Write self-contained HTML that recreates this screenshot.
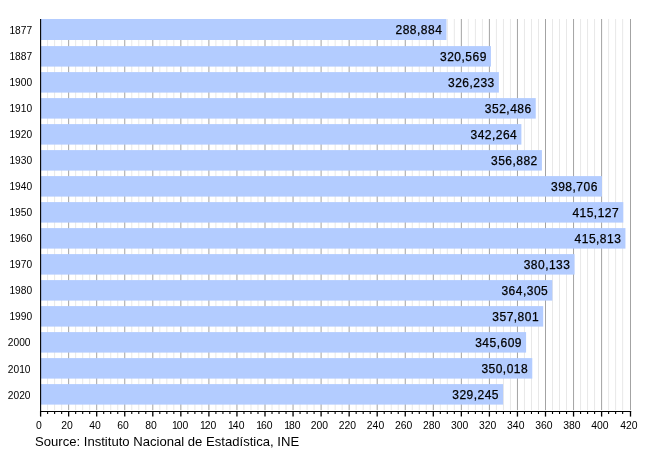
<!DOCTYPE html>
<html><head><meta charset="utf-8"><title>Population</title>
<style>
html,body{margin:0;padding:0;background:#fff;}
svg{display:block;}
text{font-family:"Liberation Sans",Arial,Helvetica,sans-serif;fill:#000;}
.yr{font-size:10.2px;}
.tk{font-size:10.4px;text-anchor:middle;}
.val{font-size:12px;text-anchor:end;letter-spacing:0.48px;stroke:#000;stroke-width:0.25px;}
.src{font-size:13.1px;}
</style></head><body>
<svg width="650" height="450" viewBox="0 0 650 450">
<rect width="650" height="450" fill="#fff"/>

<g>
<line x1="47.61" y1="19.0" x2="47.61" y2="410.2" stroke="#e8e8e8" stroke-width="1"/>
<line x1="54.62" y1="19.0" x2="54.62" y2="410.2" stroke="#e8e8e8" stroke-width="1"/>
<line x1="61.64" y1="19.0" x2="61.64" y2="410.2" stroke="#e8e8e8" stroke-width="1"/>
<line x1="68.65" y1="19.0" x2="68.65" y2="410.2" stroke="#a3a3a3" stroke-width="1"/>
<line x1="75.66" y1="19.0" x2="75.66" y2="410.2" stroke="#e8e8e8" stroke-width="1"/>
<line x1="82.68" y1="19.0" x2="82.68" y2="410.2" stroke="#e8e8e8" stroke-width="1"/>
<line x1="89.69" y1="19.0" x2="89.69" y2="410.2" stroke="#e8e8e8" stroke-width="1"/>
<line x1="96.70" y1="19.0" x2="96.70" y2="410.2" stroke="#a3a3a3" stroke-width="1"/>
<line x1="103.71" y1="19.0" x2="103.71" y2="410.2" stroke="#e8e8e8" stroke-width="1"/>
<line x1="110.72" y1="19.0" x2="110.72" y2="410.2" stroke="#e8e8e8" stroke-width="1"/>
<line x1="117.74" y1="19.0" x2="117.74" y2="410.2" stroke="#e8e8e8" stroke-width="1"/>
<line x1="124.75" y1="19.0" x2="124.75" y2="410.2" stroke="#a3a3a3" stroke-width="1"/>
<line x1="131.76" y1="19.0" x2="131.76" y2="410.2" stroke="#e8e8e8" stroke-width="1"/>
<line x1="138.78" y1="19.0" x2="138.78" y2="410.2" stroke="#e8e8e8" stroke-width="1"/>
<line x1="145.79" y1="19.0" x2="145.79" y2="410.2" stroke="#e8e8e8" stroke-width="1"/>
<line x1="152.80" y1="19.0" x2="152.80" y2="410.2" stroke="#a3a3a3" stroke-width="1"/>
<line x1="159.81" y1="19.0" x2="159.81" y2="410.2" stroke="#e8e8e8" stroke-width="1"/>
<line x1="166.83" y1="19.0" x2="166.83" y2="410.2" stroke="#e8e8e8" stroke-width="1"/>
<line x1="173.84" y1="19.0" x2="173.84" y2="410.2" stroke="#e8e8e8" stroke-width="1"/>
<line x1="180.85" y1="19.0" x2="180.85" y2="410.2" stroke="#a3a3a3" stroke-width="1"/>
<line x1="187.86" y1="19.0" x2="187.86" y2="410.2" stroke="#e8e8e8" stroke-width="1"/>
<line x1="194.88" y1="19.0" x2="194.88" y2="410.2" stroke="#e8e8e8" stroke-width="1"/>
<line x1="201.89" y1="19.0" x2="201.89" y2="410.2" stroke="#e8e8e8" stroke-width="1"/>
<line x1="208.90" y1="19.0" x2="208.90" y2="410.2" stroke="#a3a3a3" stroke-width="1"/>
<line x1="215.91" y1="19.0" x2="215.91" y2="410.2" stroke="#e8e8e8" stroke-width="1"/>
<line x1="222.93" y1="19.0" x2="222.93" y2="410.2" stroke="#e8e8e8" stroke-width="1"/>
<line x1="229.94" y1="19.0" x2="229.94" y2="410.2" stroke="#e8e8e8" stroke-width="1"/>
<line x1="236.95" y1="19.0" x2="236.95" y2="410.2" stroke="#a3a3a3" stroke-width="1"/>
<line x1="243.96" y1="19.0" x2="243.96" y2="410.2" stroke="#e8e8e8" stroke-width="1"/>
<line x1="250.97" y1="19.0" x2="250.97" y2="410.2" stroke="#e8e8e8" stroke-width="1"/>
<line x1="257.99" y1="19.0" x2="257.99" y2="410.2" stroke="#e8e8e8" stroke-width="1"/>
<line x1="265.00" y1="19.0" x2="265.00" y2="410.2" stroke="#a3a3a3" stroke-width="1"/>
<line x1="272.01" y1="19.0" x2="272.01" y2="410.2" stroke="#e8e8e8" stroke-width="1"/>
<line x1="279.03" y1="19.0" x2="279.03" y2="410.2" stroke="#e8e8e8" stroke-width="1"/>
<line x1="286.04" y1="19.0" x2="286.04" y2="410.2" stroke="#e8e8e8" stroke-width="1"/>
<line x1="293.05" y1="19.0" x2="293.05" y2="410.2" stroke="#a3a3a3" stroke-width="1"/>
<line x1="300.06" y1="19.0" x2="300.06" y2="410.2" stroke="#e8e8e8" stroke-width="1"/>
<line x1="307.08" y1="19.0" x2="307.08" y2="410.2" stroke="#e8e8e8" stroke-width="1"/>
<line x1="314.09" y1="19.0" x2="314.09" y2="410.2" stroke="#e8e8e8" stroke-width="1"/>
<line x1="321.10" y1="19.0" x2="321.10" y2="410.2" stroke="#a3a3a3" stroke-width="1"/>
<line x1="328.11" y1="19.0" x2="328.11" y2="410.2" stroke="#e8e8e8" stroke-width="1"/>
<line x1="335.13" y1="19.0" x2="335.13" y2="410.2" stroke="#e8e8e8" stroke-width="1"/>
<line x1="342.14" y1="19.0" x2="342.14" y2="410.2" stroke="#e8e8e8" stroke-width="1"/>
<line x1="349.15" y1="19.0" x2="349.15" y2="410.2" stroke="#a3a3a3" stroke-width="1"/>
<line x1="356.16" y1="19.0" x2="356.16" y2="410.2" stroke="#e8e8e8" stroke-width="1"/>
<line x1="363.18" y1="19.0" x2="363.18" y2="410.2" stroke="#e8e8e8" stroke-width="1"/>
<line x1="370.19" y1="19.0" x2="370.19" y2="410.2" stroke="#e8e8e8" stroke-width="1"/>
<line x1="377.20" y1="19.0" x2="377.20" y2="410.2" stroke="#a3a3a3" stroke-width="1"/>
<line x1="384.21" y1="19.0" x2="384.21" y2="410.2" stroke="#e8e8e8" stroke-width="1"/>
<line x1="391.23" y1="19.0" x2="391.23" y2="410.2" stroke="#e8e8e8" stroke-width="1"/>
<line x1="398.24" y1="19.0" x2="398.24" y2="410.2" stroke="#e8e8e8" stroke-width="1"/>
<line x1="405.25" y1="19.0" x2="405.25" y2="410.2" stroke="#a3a3a3" stroke-width="1"/>
<line x1="412.26" y1="19.0" x2="412.26" y2="410.2" stroke="#e8e8e8" stroke-width="1"/>
<line x1="419.28" y1="19.0" x2="419.28" y2="410.2" stroke="#e8e8e8" stroke-width="1"/>
<line x1="426.29" y1="19.0" x2="426.29" y2="410.2" stroke="#e8e8e8" stroke-width="1"/>
<line x1="433.30" y1="19.0" x2="433.30" y2="410.2" stroke="#a3a3a3" stroke-width="1"/>
<line x1="440.31" y1="19.0" x2="440.31" y2="410.2" stroke="#e8e8e8" stroke-width="1"/>
<line x1="447.33" y1="19.0" x2="447.33" y2="410.2" stroke="#e8e8e8" stroke-width="1"/>
<line x1="454.34" y1="19.0" x2="454.34" y2="410.2" stroke="#e8e8e8" stroke-width="1"/>
<line x1="461.35" y1="19.0" x2="461.35" y2="410.2" stroke="#a3a3a3" stroke-width="1"/>
<line x1="468.36" y1="19.0" x2="468.36" y2="410.2" stroke="#e8e8e8" stroke-width="1"/>
<line x1="475.38" y1="19.0" x2="475.38" y2="410.2" stroke="#e8e8e8" stroke-width="1"/>
<line x1="482.39" y1="19.0" x2="482.39" y2="410.2" stroke="#e8e8e8" stroke-width="1"/>
<line x1="489.40" y1="19.0" x2="489.40" y2="410.2" stroke="#a3a3a3" stroke-width="1"/>
<line x1="496.41" y1="19.0" x2="496.41" y2="410.2" stroke="#e8e8e8" stroke-width="1"/>
<line x1="503.43" y1="19.0" x2="503.43" y2="410.2" stroke="#e8e8e8" stroke-width="1"/>
<line x1="510.44" y1="19.0" x2="510.44" y2="410.2" stroke="#e8e8e8" stroke-width="1"/>
<line x1="517.45" y1="19.0" x2="517.45" y2="410.2" stroke="#a3a3a3" stroke-width="1"/>
<line x1="524.46" y1="19.0" x2="524.46" y2="410.2" stroke="#e8e8e8" stroke-width="1"/>
<line x1="531.48" y1="19.0" x2="531.48" y2="410.2" stroke="#e8e8e8" stroke-width="1"/>
<line x1="538.49" y1="19.0" x2="538.49" y2="410.2" stroke="#e8e8e8" stroke-width="1"/>
<line x1="545.50" y1="19.0" x2="545.50" y2="410.2" stroke="#a3a3a3" stroke-width="1"/>
<line x1="552.51" y1="19.0" x2="552.51" y2="410.2" stroke="#e8e8e8" stroke-width="1"/>
<line x1="559.53" y1="19.0" x2="559.53" y2="410.2" stroke="#e8e8e8" stroke-width="1"/>
<line x1="566.54" y1="19.0" x2="566.54" y2="410.2" stroke="#e8e8e8" stroke-width="1"/>
<line x1="573.55" y1="19.0" x2="573.55" y2="410.2" stroke="#a3a3a3" stroke-width="1"/>
<line x1="580.56" y1="19.0" x2="580.56" y2="410.2" stroke="#e8e8e8" stroke-width="1"/>
<line x1="587.58" y1="19.0" x2="587.58" y2="410.2" stroke="#e8e8e8" stroke-width="1"/>
<line x1="594.59" y1="19.0" x2="594.59" y2="410.2" stroke="#e8e8e8" stroke-width="1"/>
<line x1="601.60" y1="19.0" x2="601.60" y2="410.2" stroke="#a3a3a3" stroke-width="1"/>
<line x1="608.61" y1="19.0" x2="608.61" y2="410.2" stroke="#e8e8e8" stroke-width="1"/>
<line x1="615.62" y1="19.0" x2="615.62" y2="410.2" stroke="#e8e8e8" stroke-width="1"/>
<line x1="622.64" y1="19.0" x2="622.64" y2="410.2" stroke="#e8e8e8" stroke-width="1"/>
<line x1="630.50" y1="19.0" x2="630.50" y2="410.2" stroke="#a3a3a3" stroke-width="1"/>
</g>
<rect x="40.60" y="19.00" width="405.84" height="21.0" fill="#b3ccff"/>
<rect x="40.60" y="46.10" width="450.33" height="20.5" fill="#b3ccff"/>
<rect x="40.60" y="72.10" width="458.28" height="20.5" fill="#b3ccff"/>
<rect x="40.60" y="98.10" width="495.14" height="20.5" fill="#b3ccff"/>
<rect x="40.60" y="124.10" width="480.79" height="20.5" fill="#b3ccff"/>
<rect x="40.60" y="150.10" width="501.31" height="20.5" fill="#b3ccff"/>
<rect x="40.60" y="176.10" width="561.33" height="20.5" fill="#b3ccff"/>
<rect x="40.60" y="202.10" width="582.69" height="20.5" fill="#b3ccff"/>
<rect x="40.60" y="228.10" width="584.85" height="20.5" fill="#b3ccff"/>
<rect x="40.60" y="254.10" width="533.96" height="20.5" fill="#b3ccff"/>
<rect x="40.60" y="280.10" width="511.73" height="20.5" fill="#b3ccff"/>
<rect x="40.60" y="306.10" width="502.60" height="20.5" fill="#b3ccff"/>
<rect x="40.60" y="332.10" width="485.49" height="20.5" fill="#b3ccff"/>
<rect x="40.60" y="358.10" width="491.68" height="20.5" fill="#b3ccff"/>
<rect x="40.60" y="384.10" width="462.51" height="20.5" fill="#b3ccff"/>
<line x1="40.6" y1="19.0" x2="40.6" y2="411.7" stroke="#000" stroke-width="1.1"/>
<line x1="40.1" y1="411.5" x2="631.2" y2="411.5" stroke="#000" stroke-width="1.2"/>
<line x1="40.60" y1="411.2" x2="40.60" y2="416.6" stroke="#000" stroke-width="1.3"/>
<line x1="47.61" y1="411.2" x2="47.61" y2="414.0" stroke="#000" stroke-width="1.1"/>
<line x1="54.62" y1="411.2" x2="54.62" y2="414.0" stroke="#000" stroke-width="1.1"/>
<line x1="61.64" y1="411.2" x2="61.64" y2="414.0" stroke="#000" stroke-width="1.1"/>
<line x1="68.65" y1="411.2" x2="68.65" y2="416.6" stroke="#000" stroke-width="1.3"/>
<line x1="75.66" y1="411.2" x2="75.66" y2="414.0" stroke="#000" stroke-width="1.1"/>
<line x1="82.68" y1="411.2" x2="82.68" y2="414.0" stroke="#000" stroke-width="1.1"/>
<line x1="89.69" y1="411.2" x2="89.69" y2="414.0" stroke="#000" stroke-width="1.1"/>
<line x1="96.70" y1="411.2" x2="96.70" y2="416.6" stroke="#000" stroke-width="1.3"/>
<line x1="103.71" y1="411.2" x2="103.71" y2="414.0" stroke="#000" stroke-width="1.1"/>
<line x1="110.72" y1="411.2" x2="110.72" y2="414.0" stroke="#000" stroke-width="1.1"/>
<line x1="117.74" y1="411.2" x2="117.74" y2="414.0" stroke="#000" stroke-width="1.1"/>
<line x1="124.75" y1="411.2" x2="124.75" y2="416.6" stroke="#000" stroke-width="1.3"/>
<line x1="131.76" y1="411.2" x2="131.76" y2="414.0" stroke="#000" stroke-width="1.1"/>
<line x1="138.78" y1="411.2" x2="138.78" y2="414.0" stroke="#000" stroke-width="1.1"/>
<line x1="145.79" y1="411.2" x2="145.79" y2="414.0" stroke="#000" stroke-width="1.1"/>
<line x1="152.80" y1="411.2" x2="152.80" y2="416.6" stroke="#000" stroke-width="1.3"/>
<line x1="159.81" y1="411.2" x2="159.81" y2="414.0" stroke="#000" stroke-width="1.1"/>
<line x1="166.83" y1="411.2" x2="166.83" y2="414.0" stroke="#000" stroke-width="1.1"/>
<line x1="173.84" y1="411.2" x2="173.84" y2="414.0" stroke="#000" stroke-width="1.1"/>
<line x1="180.85" y1="411.2" x2="180.85" y2="416.6" stroke="#000" stroke-width="1.3"/>
<line x1="187.86" y1="411.2" x2="187.86" y2="414.0" stroke="#000" stroke-width="1.1"/>
<line x1="194.88" y1="411.2" x2="194.88" y2="414.0" stroke="#000" stroke-width="1.1"/>
<line x1="201.89" y1="411.2" x2="201.89" y2="414.0" stroke="#000" stroke-width="1.1"/>
<line x1="208.90" y1="411.2" x2="208.90" y2="416.6" stroke="#000" stroke-width="1.3"/>
<line x1="215.91" y1="411.2" x2="215.91" y2="414.0" stroke="#000" stroke-width="1.1"/>
<line x1="222.93" y1="411.2" x2="222.93" y2="414.0" stroke="#000" stroke-width="1.1"/>
<line x1="229.94" y1="411.2" x2="229.94" y2="414.0" stroke="#000" stroke-width="1.1"/>
<line x1="236.95" y1="411.2" x2="236.95" y2="416.6" stroke="#000" stroke-width="1.3"/>
<line x1="243.96" y1="411.2" x2="243.96" y2="414.0" stroke="#000" stroke-width="1.1"/>
<line x1="250.97" y1="411.2" x2="250.97" y2="414.0" stroke="#000" stroke-width="1.1"/>
<line x1="257.99" y1="411.2" x2="257.99" y2="414.0" stroke="#000" stroke-width="1.1"/>
<line x1="265.00" y1="411.2" x2="265.00" y2="416.6" stroke="#000" stroke-width="1.3"/>
<line x1="272.01" y1="411.2" x2="272.01" y2="414.0" stroke="#000" stroke-width="1.1"/>
<line x1="279.03" y1="411.2" x2="279.03" y2="414.0" stroke="#000" stroke-width="1.1"/>
<line x1="286.04" y1="411.2" x2="286.04" y2="414.0" stroke="#000" stroke-width="1.1"/>
<line x1="293.05" y1="411.2" x2="293.05" y2="416.6" stroke="#000" stroke-width="1.3"/>
<line x1="300.06" y1="411.2" x2="300.06" y2="414.0" stroke="#000" stroke-width="1.1"/>
<line x1="307.08" y1="411.2" x2="307.08" y2="414.0" stroke="#000" stroke-width="1.1"/>
<line x1="314.09" y1="411.2" x2="314.09" y2="414.0" stroke="#000" stroke-width="1.1"/>
<line x1="321.10" y1="411.2" x2="321.10" y2="416.6" stroke="#000" stroke-width="1.3"/>
<line x1="328.11" y1="411.2" x2="328.11" y2="414.0" stroke="#000" stroke-width="1.1"/>
<line x1="335.13" y1="411.2" x2="335.13" y2="414.0" stroke="#000" stroke-width="1.1"/>
<line x1="342.14" y1="411.2" x2="342.14" y2="414.0" stroke="#000" stroke-width="1.1"/>
<line x1="349.15" y1="411.2" x2="349.15" y2="416.6" stroke="#000" stroke-width="1.3"/>
<line x1="356.16" y1="411.2" x2="356.16" y2="414.0" stroke="#000" stroke-width="1.1"/>
<line x1="363.18" y1="411.2" x2="363.18" y2="414.0" stroke="#000" stroke-width="1.1"/>
<line x1="370.19" y1="411.2" x2="370.19" y2="414.0" stroke="#000" stroke-width="1.1"/>
<line x1="377.20" y1="411.2" x2="377.20" y2="416.6" stroke="#000" stroke-width="1.3"/>
<line x1="384.21" y1="411.2" x2="384.21" y2="414.0" stroke="#000" stroke-width="1.1"/>
<line x1="391.23" y1="411.2" x2="391.23" y2="414.0" stroke="#000" stroke-width="1.1"/>
<line x1="398.24" y1="411.2" x2="398.24" y2="414.0" stroke="#000" stroke-width="1.1"/>
<line x1="405.25" y1="411.2" x2="405.25" y2="416.6" stroke="#000" stroke-width="1.3"/>
<line x1="412.26" y1="411.2" x2="412.26" y2="414.0" stroke="#000" stroke-width="1.1"/>
<line x1="419.28" y1="411.2" x2="419.28" y2="414.0" stroke="#000" stroke-width="1.1"/>
<line x1="426.29" y1="411.2" x2="426.29" y2="414.0" stroke="#000" stroke-width="1.1"/>
<line x1="433.30" y1="411.2" x2="433.30" y2="416.6" stroke="#000" stroke-width="1.3"/>
<line x1="440.31" y1="411.2" x2="440.31" y2="414.0" stroke="#000" stroke-width="1.1"/>
<line x1="447.33" y1="411.2" x2="447.33" y2="414.0" stroke="#000" stroke-width="1.1"/>
<line x1="454.34" y1="411.2" x2="454.34" y2="414.0" stroke="#000" stroke-width="1.1"/>
<line x1="461.35" y1="411.2" x2="461.35" y2="416.6" stroke="#000" stroke-width="1.3"/>
<line x1="468.36" y1="411.2" x2="468.36" y2="414.0" stroke="#000" stroke-width="1.1"/>
<line x1="475.38" y1="411.2" x2="475.38" y2="414.0" stroke="#000" stroke-width="1.1"/>
<line x1="482.39" y1="411.2" x2="482.39" y2="414.0" stroke="#000" stroke-width="1.1"/>
<line x1="489.40" y1="411.2" x2="489.40" y2="416.6" stroke="#000" stroke-width="1.3"/>
<line x1="496.41" y1="411.2" x2="496.41" y2="414.0" stroke="#000" stroke-width="1.1"/>
<line x1="503.43" y1="411.2" x2="503.43" y2="414.0" stroke="#000" stroke-width="1.1"/>
<line x1="510.44" y1="411.2" x2="510.44" y2="414.0" stroke="#000" stroke-width="1.1"/>
<line x1="517.45" y1="411.2" x2="517.45" y2="416.6" stroke="#000" stroke-width="1.3"/>
<line x1="524.46" y1="411.2" x2="524.46" y2="414.0" stroke="#000" stroke-width="1.1"/>
<line x1="531.48" y1="411.2" x2="531.48" y2="414.0" stroke="#000" stroke-width="1.1"/>
<line x1="538.49" y1="411.2" x2="538.49" y2="414.0" stroke="#000" stroke-width="1.1"/>
<line x1="545.50" y1="411.2" x2="545.50" y2="416.6" stroke="#000" stroke-width="1.3"/>
<line x1="552.51" y1="411.2" x2="552.51" y2="414.0" stroke="#000" stroke-width="1.1"/>
<line x1="559.53" y1="411.2" x2="559.53" y2="414.0" stroke="#000" stroke-width="1.1"/>
<line x1="566.54" y1="411.2" x2="566.54" y2="414.0" stroke="#000" stroke-width="1.1"/>
<line x1="573.55" y1="411.2" x2="573.55" y2="416.6" stroke="#000" stroke-width="1.3"/>
<line x1="580.56" y1="411.2" x2="580.56" y2="414.0" stroke="#000" stroke-width="1.1"/>
<line x1="587.58" y1="411.2" x2="587.58" y2="414.0" stroke="#000" stroke-width="1.1"/>
<line x1="594.59" y1="411.2" x2="594.59" y2="414.0" stroke="#000" stroke-width="1.1"/>
<line x1="601.60" y1="411.2" x2="601.60" y2="416.6" stroke="#000" stroke-width="1.3"/>
<line x1="608.61" y1="411.2" x2="608.61" y2="414.0" stroke="#000" stroke-width="1.1"/>
<line x1="615.62" y1="411.2" x2="615.62" y2="414.0" stroke="#000" stroke-width="1.1"/>
<line x1="622.64" y1="411.2" x2="622.64" y2="414.0" stroke="#000" stroke-width="1.1"/>
<line x1="630.50" y1="411.2" x2="630.50" y2="416.6" stroke="#000" stroke-width="1.3"/>
<text class="yr" x="9.4" y="33.80">1877</text>
<text class="val" x="442.32" y="33.80">288,884</text>
<text class="yr" x="9.4" y="60.00">1887</text>
<text class="val" x="486.81" y="61.00">320,569</text>
<text class="yr" x="9.4" y="86.00">1900</text>
<text class="val" x="494.76" y="87.00">326,233</text>
<text class="yr" x="9.4" y="112.00">1910</text>
<text class="val" x="531.62" y="113.00">352,486</text>
<text class="yr" x="9.4" y="138.00">1920</text>
<text class="val" x="517.27" y="139.00">342,264</text>
<text class="yr" x="9.4" y="164.00">1930</text>
<text class="val" x="537.79" y="165.00">356,882</text>
<text class="yr" x="9.4" y="190.20">1940</text>
<text class="val" x="597.81" y="191.00">398,706</text>
<text class="yr" x="9.4" y="216.20">1950</text>
<text class="val" x="619.17" y="217.00">415,127</text>
<text class="yr" x="9.4" y="242.20">1960</text>
<text class="val" x="621.33" y="243.00">415,813</text>
<text class="yr" x="9.4" y="268.20">1970</text>
<text class="val" x="570.44" y="269.00">380,133</text>
<text class="yr" x="9.4" y="294.30">1980</text>
<text class="val" x="548.21" y="295.00">364,305</text>
<text class="yr" x="9.4" y="320.10">1990</text>
<text class="val" x="539.08" y="321.00">357,801</text>
<text class="yr" x="7.8" y="346.20">2000</text>
<text class="val" x="521.97" y="347.00">345,609</text>
<text class="yr" x="7.8" y="373.00">2010</text>
<text class="val" x="528.16" y="373.00">350,018</text>
<text class="yr" x="7.8" y="399.00">2020</text>
<text class="val" x="498.99" y="399.00">329,245</text>
<text class="tk" x="38.90" y="429.2">0</text>
<text class="tk" x="66.95" y="429.2">20</text>
<text class="tk" x="95.00" y="429.2">40</text>
<text class="tk" x="123.05" y="429.2">60</text>
<text class="tk" x="151.10" y="429.2">80</text>
<text class="tk" x="179.15" y="429.2"><tspan dx="1.0">1</tspan><tspan dx="-1.0">00</tspan></text>
<text class="tk" x="207.20" y="429.2"><tspan dx="1.0">1</tspan><tspan dx="-1.0">20</tspan></text>
<text class="tk" x="235.25" y="429.2"><tspan dx="1.0">1</tspan><tspan dx="-1.0">40</tspan></text>
<text class="tk" x="263.30" y="429.2"><tspan dx="1.0">1</tspan><tspan dx="-1.0">60</tspan></text>
<text class="tk" x="291.35" y="429.2"><tspan dx="1.0">1</tspan><tspan dx="-1.0">80</tspan></text>
<text class="tk" x="319.40" y="429.2">200</text>
<text class="tk" x="347.45" y="429.2">220</text>
<text class="tk" x="375.50" y="429.2">240</text>
<text class="tk" x="403.55" y="429.2">260</text>
<text class="tk" x="431.60" y="429.2">280</text>
<text class="tk" x="459.65" y="429.2">300</text>
<text class="tk" x="487.70" y="429.2">320</text>
<text class="tk" x="515.75" y="429.2">340</text>
<text class="tk" x="543.80" y="429.2">360</text>
<text class="tk" x="571.85" y="429.2">380</text>
<text class="tk" x="599.90" y="429.2">400</text>
<text class="tk" x="628.80" y="429.2">420</text>
<text class="src" x="35.0" y="446.1">Source: Instituto Nacional de Estadística, INE</text>
</svg></body></html>
